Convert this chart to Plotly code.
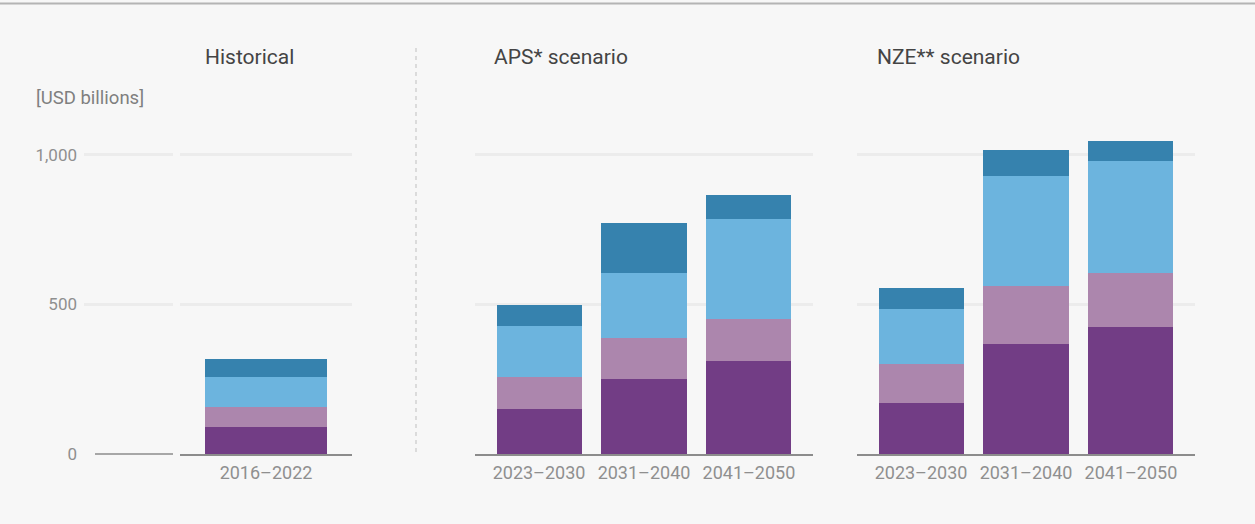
import plotly.graph_objects as go

W, H = 1255, 524
YS = 524 / 515  # vertical calibration of the renderer

# ---- data (USD billions) ----
hist_periods = ["2016–2022"]
scen_periods = ["2023–2030", "2031–2040", "2041–2050"]
series_names = ["Segment 1", "Segment 2", "Segment 3", "Segment 4"]
series_colors = ["#723d85", "#ac86ad", "#6cb4de", "#3682ae"]

hist_s1 = [90]
hist_s2 = [67]
hist_s3 = [100]
hist_s4 = [60]

aps_s1 = [153, 253, 313]
aps_s2 = [107, 134, 140]
aps_s3 = [170, 220, 334]
aps_s4 = [70, 166, 80]

nze_s1 = [173, 370, 427]
nze_s2 = [130, 193, 180]
nze_s3 = [184, 367, 373]
nze_s4 = [70, 87, 67]

y_ticks = [0, 500, 1000]
y_ticktext = ["0", "500", "1,000"]
Y_MAX = 1100

panel_titles = ["Historical", "APS* scenario", "NZE** scenario"]
unit_label = "[USD billions]"

FONT = "Roboto"
GRID = "#ececec"
AXIS = "#8c8c8c"
TICKC = "#8f8f8f"

def px(x):
    return x / W

def py(y):
    return 1 - (y * YS) / H

fig = go.Figure()

# empty placeholder panel (left part of historical panel)
fig.add_trace(go.Bar(x=["blank"], y=[None], xaxis="x", yaxis="y", showlegend=False,
                     hoverinfo="skip"))

panels = [
    ("x2", "y2", hist_periods, [hist_s1, hist_s2, hist_s3, hist_s4], 0.715),
    ("x3", "y3", scen_periods, [aps_s1, aps_s2, aps_s3, aps_s4], 0.81),
    ("x4", "y4", scen_periods, [nze_s1, nze_s2, nze_s3, nze_s4], 0.81),
]
for xa, ya, cats, vals, bw in panels:
    for name, col, v in zip(series_names, series_colors, vals):
        fig.add_trace(go.Bar(x=cats, y=v, name=name, marker_color=col, marker_line_width=0,
                             width=bw, xaxis=xa, yaxis=ya, showlegend=False))

y_bottom = py(455)
y_top = py(455 - Y_MAX * 0.3)

common_y = dict(range=[0, Y_MAX], domain=[y_bottom, y_top], tickvals=y_ticks,
                showgrid=True, gridcolor=GRID, gridwidth=3, zeroline=False,
                showline=False, ticks="", fixedrange=True)

layout = dict(
    width=W, height=H, autosize=False, margin=dict(l=0, r=0, t=0, b=0),
    paper_bgcolor="#f7f7f7", plot_bgcolor="#f7f7f7",
    barmode="stack", bargap=0, showlegend=False,
    font=dict(family=FONT, color=TICKC, size=17),
    xaxis=dict(domain=[px(84), px(173)], anchor="y", showticklabels=False,
               showgrid=False, zeroline=False, showline=False, ticks="", range=[-0.5, 0.5]),
    yaxis=dict(anchor="x", ticktext=y_ticktext, showticklabels=True,
               ticklabelstandoff=6, tickfont=dict(size=17, color=TICKC, family=FONT),
               **common_y),
)
xdoms = {"x2": [180, 352], "x3": [475, 813], "x4": [857, 1195]}
xranges = {"x2": [-0.5, 0.5], "x3": [-0.61, 2.61], "x4": [-0.61, 2.61]}
for i, xa in enumerate(["x2", "x3", "x4"], start=2):
    layout[f"xaxis{i}"] = dict(domain=[px(xdoms[xa][0]), px(xdoms[xa][1])], anchor=f"y{i}",
                               range=xranges[xa], showgrid=False, zeroline=False,
                               showline=True, linecolor=AXIS, linewidth=1.5, ticks="",
                               tickfont=dict(size=18, color=TICKC, family=FONT),
                               ticklabelstandoff=2, fixedrange=True)
    layout[f"yaxis{i}"] = dict(anchor=f"x{i}", showticklabels=False, **common_y)

fig.update_layout(**layout)

shapes = [
    # top border
    dict(type="line", xref="paper", yref="paper", x0=0, x1=1, y0=py(3.5), y1=py(3.5),
         line=dict(color="#b4b4b4", width=2)),
    # dashed separator
    dict(type="line", xref="paper", yref="paper", x0=px(416), x1=px(416), y0=py(48), y1=py(455),
         line=dict(color="#c8c8c8", width=1.2, dash="4px,4px")),
    # baseline of empty panel
    dict(type="line", xref="paper", yref="paper", x0=px(95), x1=px(173),
         y0=y_bottom, y1=y_bottom, line=dict(color=AXIS, width=1.5)),
]
fig.update_layout(shapes=shapes)

title_font = dict(size=21, color="#444444", family=FONT)
annotations = [
    dict(text=panel_titles[0], x=px(203), y=py(57), xref="paper", yref="paper",
         xanchor="left", yanchor="middle", showarrow=False, font=title_font),
    dict(text=panel_titles[1], x=px(492), y=py(57), xref="paper", yref="paper",
         xanchor="left", yanchor="middle", showarrow=False, font=title_font),
    dict(text=panel_titles[2], x=px(875), y=py(57), xref="paper", yref="paper",
         xanchor="left", yanchor="middle", showarrow=False, font=title_font),
    dict(text=unit_label, x=px(34), y=py(98), xref="paper", yref="paper",
         xanchor="left", yanchor="middle", showarrow=False,
         font=dict(size=18.5, color="#7f7f7f", family=FONT)),
]
fig.update_layout(annotations=annotations)

fig.write_html("out.html", include_plotlyjs=True,
               config={"displayModeBar": False},
               post_script=("var s=document.body.style; s.margin='0'; s.padding='0';"
                            "s.height='524px'; s.overflow='hidden';"
                            "var h=document.documentElement.style; h.height='524px';"
                            "h.overflow='hidden';"))
